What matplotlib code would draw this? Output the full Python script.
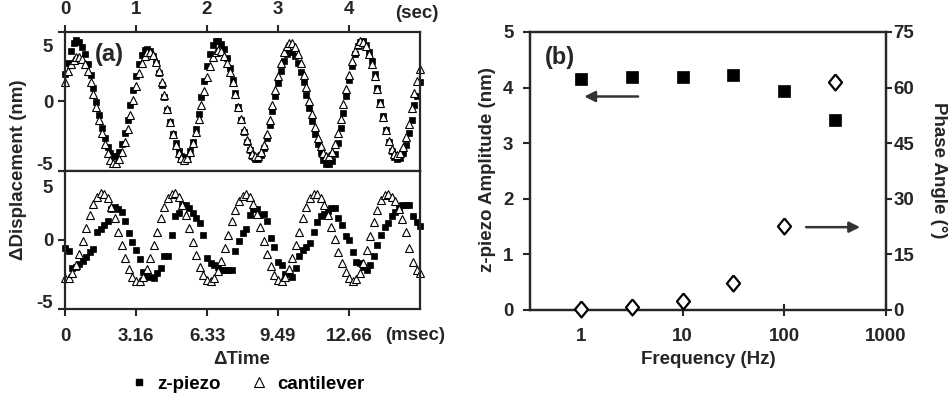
import numpy as np
import matplotlib.pyplot as plt
from matplotlib.lines import Line2D
from matplotlib.transforms import ScaledTranslation

plt.rcParams['font.family'] = ['Liberation Sans', 'DejaVu Sans']
plt.rcParams['font.weight'] = 'bold'
plt.rcParams['font.size'] = 13.5
INK = '#262626'

# --------------------------------------------------
# (a) upper trace: 1 Hz drive, one sample every 0.04 s
# --------------------------------------------------
dt_sec = 0.04
piezo_1hz = [
    2.0, 2.8, 3.6, 4.2, 4.4, 4.29, 3.95, 3.42, 2.71, 1.87,
    0.93, -0.05, -1.01, -1.9, -2.67, -3.31, -3.75, -3.97, -3.96, -3.66,
    -3.09, -2.29, -1.31, -0.24, 0.84, 1.85, 2.71, 3.34, 3.71, 3.8,
    3.63, 3.27, 2.73, 2.02, 1.2, 0.31, -0.61, -1.5, -2.32, -3.03,
    -3.57, -3.93, -4.09, -4.01, -3.6, -2.9, -1.98, -0.88, 0.3, 1.46,
    2.54, 3.41, 4.03, 4.36, 4.37, 4.16, 3.74, 3.14, 2.39, 1.52,
    0.58, -0.38, -1.32, -2.19, -2.94, -3.54, -3.96, -4.17, -4.16, -3.89,
    -3.37, -2.62, -1.71, -0.69, 0.35, 1.32, 2.22, 2.92, 3.39, 3.59,
    3.54, 3.26, 2.79, 2.15, 1.37, 0.46, -0.48, -1.41, -2.32, -3.1,
    -3.74, -4.22, -4.49, -4.54, -4.31, -3.77, -2.99, -1.95, -0.84, 0.35,
    1.51, 2.55, 3.4, 3.99, 4.31, 4.32, 4.06, 3.56, 2.88, 1.99,
    0.99, -0.05, -1.09, -2.06, -2.91, -3.57, -4.0, -4.19, -4.12, -3.76,
    -3.14, -2.31, -1.33, -0.23, 0.4, 1.4,
]
cant_1hz = [
    1.4, 2.2, 2.7, 3.0, 3.2, 3.2, 3.08, 2.72, 2.16, 1.41,
    0.54, -0.41, -1.37, -2.29, -3.1, -3.76, -4.23, -4.47, -4.46, -4.19,
    -3.66, -2.93, -2.0, -0.98, 0.08, 1.1, 2.02, 2.76, 3.29, 3.56,
    3.57, 3.33, 2.86, 2.18, 1.36, 0.43, -0.55, -1.51, -2.39, -3.14,
    -3.72, -4.08, -4.2, -4.07, -3.67, -3.04, -2.23, -1.27, -0.25, 0.77,
    1.73, 2.54, 3.17, 3.57, 3.7, 3.6, 3.29, 2.8, 2.15, 1.38,
    0.52, -0.38, -1.26, -2.08, -2.78, -3.36, -3.77, -3.97, -3.96, -3.67,
    -3.12, -2.33, -1.37, -0.29, 0.81, 1.84, 2.79, 3.53, 4.02, 4.24,
    4.18, 3.9, 3.4, 2.73, 1.93, 1.0, 0.04, -0.93, -1.83, -2.62,
    -3.25, -3.7, -3.92, -3.91, -3.62, -3.06, -2.27, -1.3, -0.22, 0.89,
    1.92, 2.88, 3.62, 4.12, 4.34, 4.28, 3.97, 3.44, 2.71, 1.83,
    0.86, -0.15, -1.14, -2.05, -2.84, -3.41, -3.78, -3.9, -3.75, -3.3,
    -2.6, -1.6, -0.5, 0.6, 1.5, 2.3,
]

# --------------------------------------------------
# (a) lower trace: 316 Hz drive, one sample every 0.158 msec
# --------------------------------------------------
dt_msec = 0.1582
piezo_316hz = [
    -0.6, -0.8, -2.0, -1.95, -1.75, -1.55, -1.25, -0.85, -0.65, 0.6,
    0.8, 1.05, 1.35, 2.2, 2.4, 2.2, 2.0, 1.35, 0.5, -0.15,
    -0.75, -1.4, -2.3, -2.6, -2.7, -2.75, -2.4, -2.0, -1.2, -1.2,
    0.35, 1.7, 1.95, 2.5, 2.5, 2.3, 1.95, 1.55, 1.2, 0.35,
    -1.3, -1.7, -1.8, -1.95, -2.15, -2.15, -2.15, -2.15, -0.8, -0.1,
    0.5, 0.75, 1.8, 2.2, 2.2, 1.8, 1.9, 1.35, 0.1, -0.5,
    -1.6, -1.8, -2.5, -2.4, -2.7, -2.05, -1.2, -0.7, -0.5, -0.25,
    0.6, 1.3, 1.7, 1.9, 2.05, 2.3, 2.3, 1.6, 1.1, 0.3,
    0.0, -0.85, -1.6, -1.7, -1.95, -2.15, -1.8, -1.2, -0.35, 0.35,
    0.95, 1.2, 1.7, 2.0, 2.3, 2.55, 2.55, 2.55, 1.7, 1.3,
    1.0,
]
cant_316hz = [
    -2.78, -2.74, -2.42, -1.82, -1.02, -0.09, 0.88, 1.79, 2.56, 3.11,
    3.38, 3.34, 3.0, 2.39, 1.56, 0.6, -0.4, -1.34, -2.13, -2.7,
    -2.97, -2.97, -2.69, -2.13, -1.34, -0.4, 0.6, 1.56, 2.39, 3.0,
    3.34, 3.37, 3.09, 2.54, 1.76, 0.82, -0.17, -1.13, -1.95, -2.56,
    -2.89, -2.95, -2.73, -2.23, -1.5, -0.6, 0.37, 1.33, 2.17, 2.81,
    3.2, 3.29, 3.08, 2.58, 1.84, 0.93, -0.05, -1.01, -1.86, -2.51,
    -2.9, -2.97, -2.69, -2.13, -1.34, -0.4, 0.6, 1.56, 2.39, 3.0,
    3.34, 3.35, 3.06, 2.54, 1.81, 0.96, 0.04, -0.86, -1.68, -2.32,
    -2.76, -2.94, -2.84, -2.4, -1.68, -0.75, 0.28, 1.31, 2.19, 2.88,
    3.24, 3.3, 3.1, 2.8, 2.2, 1.5, 0.6, -0.6, -1.6, -2.2,
    -2.4,
]

sec_ticks = [0, 1, 2, 3, 4]
msec_ticks = [0, 3.16, 6.33, 9.49, 12.66]
msec_labels = ['0', '3.16', '6.33', '9.49', '12.66']
disp_ticks = [-5, 0, 5]

# --------------------------------------------------
# (b) frequency response
# --------------------------------------------------
freq_hz = [1, 3.16, 10, 31.6, 100, 316]
amp_nm = [4.15, 4.19, 4.19, 4.23, 3.94, 3.42]
phase_deg = [0.2, 0.7, 2.3, 7.2, 22.7, 61.6]
freq_ticks = [1, 10, 100, 1000]
amp_ticks = [0, 1, 2, 3, 4, 5]
phase_ticks = [0, 15, 30, 45, 60, 75]


def shift_labels(fig, labels, shifts_px):
    for lbl, dy in zip(labels, shifts_px):
        lbl.set_transform(lbl.get_transform()
                          + ScaledTranslation(0, dy / 100.0, fig.dpi_scale_trans))


def style_spines(ax):
    for sp in ax.spines.values():
        sp.set_linewidth(1.6)
        sp.set_color(INK)


fig = plt.figure(figsize=(9.48, 4.0), dpi=100)

sq_kw = dict(ls='none', marker='s', ms=5.0, mfc='black', mec='black', mew=0.5)
tri_kw = dict(ls='none', marker='^', ms=6.2, mfc='white', mec='black', mew=0.8)

# ---------------- panel (a), top ----------------
ax1 = fig.add_axes([0.0686, 0.5733, 0.3745, 0.3467])
t_sec = np.arange(len(piezo_1hz)) * dt_sec
ax1.plot(t_sec, piezo_1hz, clip_on=False, **sq_kw)
ax1.plot(np.arange(len(cant_1hz)) * dt_sec, cant_1hz, clip_on=False, **tri_kw)
ax1.set_xlim(0, 5.0)
ax1.set_ylim(-5, 5)
ax1.set_xticks(sec_ticks)
ax1.set_xticklabels([str(v) for v in sec_ticks])
ax1.xaxis.set_ticks_position('top')
ax1.tick_params(axis='x', direction='out', length=5, width=1.5, pad=5, colors=INK)
ax1.set_yticks(disp_ticks)
ax1.set_yticklabels([str(v) for v in disp_ticks])
ax1.tick_params(axis='y', direction='out', length=5, width=1.5, pad=3.5, colors=INK,
                right=False)
style_spines(ax1)
ax1.text(0.085, 0.84, '(a)', transform=ax1.transAxes, fontsize=17,
         ha='left', va='center', color=INK)

# ---------------- panel (a), bottom ----------------
ax2 = fig.add_axes([0.0686, 0.2275, 0.3745, 0.3458])
ax2.plot(np.arange(len(piezo_316hz)) * dt_msec, piezo_316hz, clip_on=False, **sq_kw)
ax2.plot(np.arange(len(cant_316hz)) * dt_msec, cant_316hz, clip_on=False, **tri_kw)
ax2.set_xlim(0, 15.82)
ax2.set_ylim(-5, 5)
ax2.set_xticks(msec_ticks)
ax2.set_xticklabels(msec_labels)
ax2.tick_params(axis='x', direction='out', length=5, width=1.5, pad=9, colors=INK,
                top=False)
ax2.set_yticks(disp_ticks)
ax2.set_yticklabels([str(v) for v in disp_ticks])
ax2.tick_params(axis='y', direction='out', length=5, width=1.5, pad=3.5, colors=INK,
                right=False)
style_spines(ax2)

fig.canvas.draw()
shift_labels(fig, ax1.get_yticklabels(), [7, 0, -13])
shift_labels(fig, ax2.get_yticklabels(), [7, 0, -16])

fig.text(417 / 948, 1 - 13 / 400, '(sec)', ha='center', va='center', color=INK)
fig.text(415 / 948, 1 - 335 / 400, '(msec)', ha='center', va='center', color=INK)
fig.text(19 / 948, 1 - 170 / 400, '\u0394Displacement (nm)', rotation=90,
         ha='center', va='center', color=INK)
fig.text(242 / 948, 1 - 360 / 400, '\u0394Time', ha='center', va='center', color=INK)

handles = [Line2D([], [], ls='none', marker='s', ms=4.8, mfc='black', mec='black'),
           Line2D([], [], ls='none', marker='^', ms=6.5, mfc='white', mec='black',
                  mew=0.8)]
fig.legend(handles, ['z-piezo', 'cantilever'], loc='center', ncol=2,
           bbox_to_anchor=(248 / 948, 1 - 384 / 400), frameon=False,
           handlelength=0.8, handletextpad=0.6, columnspacing=1.6)

# ---------------- panel (b) ----------------
axb = fig.add_axes([0.5591, 0.225, 0.3755, 0.695])
axb.plot(freq_hz, amp_nm, ls='none', marker='s', ms=8.0, mfc='black', mec='black',
         mew=0.5, zorder=3)
axb.set_xscale('log')
axb.set_xlim(10 ** -0.5, 1000)
axb.set_ylim(0, 5)
axb.set_xticks(freq_ticks)
axb.set_xticklabels([str(v) for v in freq_ticks])
axb.xaxis.set_minor_locator(plt.NullLocator())
axb.tick_params(axis='x', direction='inout', length=8, width=1.5, pad=9, colors=INK,
                top=False)
axb.set_yticks(amp_ticks)
axb.tick_params(axis='y', direction='out', length=5, width=1.5, pad=7, colors=INK)
style_spines(axb)

axp = axb.twinx()
diamond = [(0, 1), (0.82, 0), (0, -1), (-0.82, 0), (0, 1)]
axp.plot(freq_hz, phase_deg, ls='none', marker=diamond, ms=11.5, mfc='white',
         mec='black', mew=1.6, clip_on=False, zorder=5)
axp.set_ylim(0, 75)
axp.set_yticks(phase_ticks)
axp.tick_params(axis='y', direction='out', length=4, width=1.5, pad=1.5, colors=INK)
style_spines(axp)

arrow_kw = dict(arrowstyle='-|>', color='#333333', lw=1.8, mutation_scale=16,
                shrinkA=0, shrinkB=0)
axb.annotate('', xy=(1.08, 3.84), xytext=(3.65, 3.84), arrowprops=arrow_kw)
axb.annotate('', xy=(556, 1.49), xytext=(164, 1.49), arrowprops=arrow_kw)
axb.text(0.042, 0.91, '(b)', transform=axb.transAxes, fontsize=17,
         ha='left', va='center', color=INK)

fig.text(708 / 948, 1 - 360 / 400, 'Frequency (Hz)', ha='center', va='center', color=INK)
fig.text(487 / 948, 1 - 170 / 400, 'z-piezo Amplitude (nm)', rotation=90,
         ha='center', va='center', color=INK)
fig.text(939 / 948, 1 - 170 / 400, 'Phase Angle (\u00b0)', rotation=270,
         ha='center', va='center', color=INK)

fig.savefig('out.png', dpi=100)
